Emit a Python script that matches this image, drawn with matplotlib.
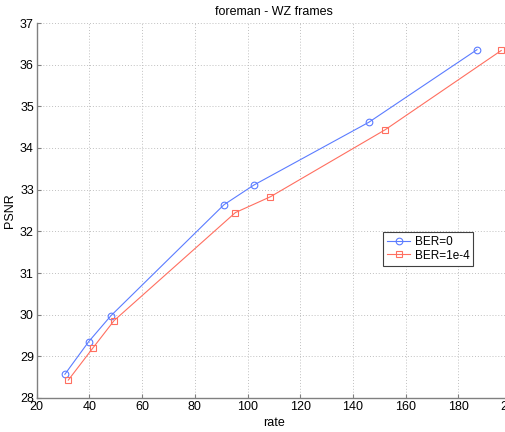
import numpy as np
import matplotlib
matplotlib.use('Agg')
import matplotlib.pyplot as plt

# values
rate_ber0 = [30.7, 39.7, 48.1, 91.1, 102.4, 146.1, 187.1]
psnr_ber0 = [28.57, 29.35, 29.97, 32.64, 33.11, 34.62, 36.36]
rate_ber4 = [32.0, 41.2, 49.4, 95.4, 108.7, 152.3, 196.3]
psnr_ber4 = [28.43, 29.19, 29.86, 32.45, 32.83, 34.44, 36.34]
x_ticks = list(range(20, 201, 20))
y_ticks = list(range(28, 38))

plt.rcParams['font.family'] = ['Liberation Sans', 'DejaVu Sans']
plt.rcParams['font.size'] = 9

W, H = 505, 432
fig = plt.figure(figsize=(W / 100, H / 100), dpi=100)
# axes run past the right edge, like the cropped original
left, right = 36.7 / W, 511.0 / W
bottom, top = 1 - 398.0 / H, 1 - 23.0 / H
ax = fig.add_axes([left, bottom, right - left, top - bottom])

ax.plot(rate_ber0, psnr_ber0, color='#5b7cff', lw=0.8, marker='o', ms=4.8,
        mfc='none', mec='#5b7cff', mew=0.8, label='BER=0')
ax.plot(rate_ber4, psnr_ber4, color='#ff6f60', lw=0.8, marker='s', ms=4.5,
        mfc='none', mec='#ff6f60', mew=0.8, label='BER=1e-4')

ax.set_xlim(20, 200)
ax.set_ylim(28, 37)
ax.set_xticks(x_ticks)
ax.set_yticks(y_ticks)
ax.grid(True, color='#c0c0c0', linestyle=(0, (1, 2)), lw=0.7)
for s in ['top', 'right']:
    ax.spines[s].set_visible(False)
for s in ['left', 'bottom']:
    ax.spines[s].set_color('#808080')
    ax.spines[s].set_linewidth(1.0)
ax.tick_params(direction='in', length=3, color='#808080', labelcolor='black', pad=2)

ax.set_title('foreman - WZ frames', fontsize=9, pad=6)
ax.set_xlabel('rate', fontsize=9, labelpad=3)
ax.set_ylabel('PSNR', fontsize=9, labelpad=3)

leg = ax.legend(loc='upper left', bbox_to_anchor=(383.3 / W, 1 - 232.3 / H),
                bbox_transform=fig.transFigure, fancybox=False, framealpha=1,
                edgecolor='#404040', fontsize=8.5, borderpad=0.35, labelspacing=0.1,
                handlelength=1.9, handletextpad=0.4, borderaxespad=0)
leg.get_frame().set_linewidth(0.8)

fig.savefig('out.png', dpi=100)
